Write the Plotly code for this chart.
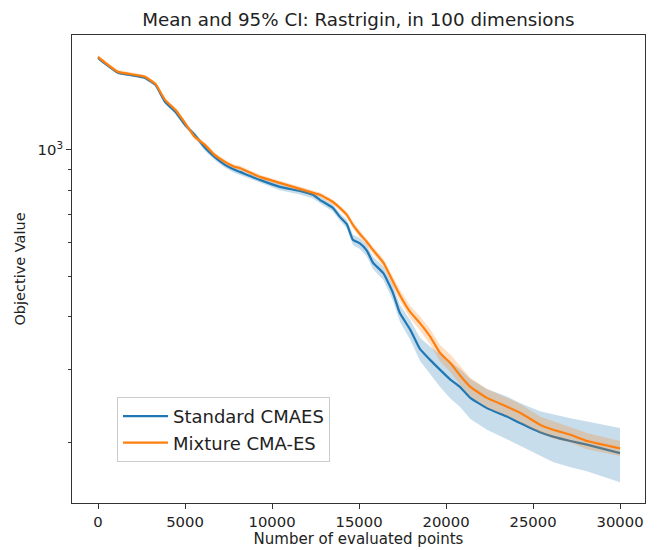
import numpy as np
import plotly.graph_objects as go

# Evaluation counts shared by both runs
evals = [0, 350, 1150, 2150, 2700, 3300, 3850, 4450, 5000, 5550, 6150, 6700,
         7300, 7850, 8150, 9300, 10450, 11600, 12350, 12750, 13500, 13900,
         14300, 14650, 15050, 15450, 15800, 16400, 16950, 17350, 17950, 18500,
         19100, 19650, 20250, 20800, 21400, 22350, 23500, 24250, 25400, 26150,
         27150, 28100, 30000]

# Standard CMA-ES: mean objective and 95% CI half-width
std_mean = [1658, 1613, 1527, 1502, 1485, 1429, 1302, 1232, 1147, 1086, 1011, 962,
            921, 896, 886, 848, 816, 798, 781, 760, 727, 692,
            665, 610, 598, 575, 538, 508, 456, 408, 372, 335,
            315, 299, 283, 272, 256, 242, 231, 223, 212, 207,
            202, 198, 189]
std_ci = [12, 12, 11, 11, 11, 12, 14, 14, 13, 16, 17, 16,
          15, 15, 15, 14, 15, 15, 15, 14, 14, 14,
          16, 17, 18, 18, 18, 19, 19, 19, 20, 21,
          24, 27, 28, 28, 28, 27, 27, 26, 26, 27,
          27, 27, 28]

# Mixture CMA-ES: mean objective and 95% CI half-width
mix_mean = [1667, 1622, 1535, 1510, 1494, 1437, 1316, 1246, 1160, 1074, 1028, 973,
            936, 911, 905, 862, 834, 807, 790, 781, 751, 727,
            700, 662, 630, 603, 577, 538, 485, 450, 410, 386,
            358, 328, 310, 290, 272, 256, 244, 236, 221, 215,
            209, 202, 194]
mix_ci = [16, 16, 15, 15, 15, 15, 14, 14, 13, 13, 12, 12,
          11, 11, 11, 10, 10, 10, 10, 10, 10, 10,
          11, 11, 11, 11, 11, 12, 13, 14, 14, 15,
          15, 15, 15, 15, 14, 13, 12, 12, 10, 10,
          9, 9, 8]

series = [
    ("Standard CMAES", std_mean, std_ci, "#1f77b4", "rgba(31,119,180,0.25)"),
    ("Mixture CMA-ES", mix_mean, mix_ci, "#ff7f0e", "rgba(255,127,14,0.25)"),
]

FONT = "DejaVu Sans"
TXT = "#222222"
fig = go.Figure()

for name, mean, ci, color, fill in series:
    m = np.array(mean, dtype=float)
    h = np.array(ci, dtype=float)
    fig.add_trace(go.Scatter(x=evals, y=m + h, mode="lines", line=dict(width=0),
                             showlegend=False, hoverinfo="skip"))
    fig.add_trace(go.Scatter(x=evals, y=m - h, mode="lines", line=dict(width=0),
                             fill="tonexty", fillcolor=fill,
                             showlegend=False, hoverinfo="skip"))
    fig.add_trace(go.Scatter(x=evals, y=m, mode="lines", name=name,
                             line=dict(color=color, width=2.2, shape="spline",
                                       smoothing=0.4)))

fig.update_layout(
    width=657, height=550,
    margin=dict(l=72, r=12, t=35, b=47),
    paper_bgcolor="white", plot_bgcolor="white",
    font=dict(family=FONT, color=TXT, size=15),
    title=dict(text="Mean and 95% CI: Rastrigin, in 100 dimensions",
               x=0.5455, xanchor="center", y=0.965, yanchor="middle",
               font=dict(family=FONT, size=18.3, color=TXT)),
    legend=dict(x=0.0785, y=0.2265, xanchor="left", yanchor="top",
                traceorder="normal", itemwidth=45,
                bgcolor="rgba(255,255,255,0.85)", bordercolor="#cccccc",
                borderwidth=1, font=dict(family=FONT, size=18, color=TXT)),
    showlegend=True,
)

fig.update_xaxes(
    range=[-1494, 31437], tickvals=[0, 5000, 10000, 15000, 20000, 25000, 30000],
    ticktext=["0", "5000", "10000", "15000", "20000", "25000", "30000"],
    ticks="outside", ticklen=5, tickcolor="#333333", tickwidth=1,
    showline=True, linecolor="#333333", linewidth=1, mirror=True,
    showgrid=False, zeroline=False, automargin=False,
    tickfont=dict(family=FONT, size=14.8, color=TXT),
    title=dict(text="Number of evaluated points", standoff=4,
               font=dict(family=FONT, size=15, color=TXT)),
)

fig.update_yaxes(
    type="log", range=[2.1575, 3.274],
    tickvals=[1000], ticktext=["10<sup>3</sup>"],
    ticks="outside", ticklen=5, tickcolor="#333333", tickwidth=1,
    minor=dict(tickvals=[200, 300, 400, 500, 600, 700, 800, 900],
               ticks="outside", ticklen=3, tickcolor="#333333", tickwidth=1,
               showgrid=False),
    showline=True, linecolor="#333333", linewidth=1, mirror=True,
    showgrid=False, zeroline=False, automargin=False,
    tickfont=dict(family=FONT, size=14.8, color=TXT),
    title=dict(text="Objective Value", standoff=8,
               font=dict(family=FONT, size=14.5, color=TXT)),
)

fig.write_html("out.html")
